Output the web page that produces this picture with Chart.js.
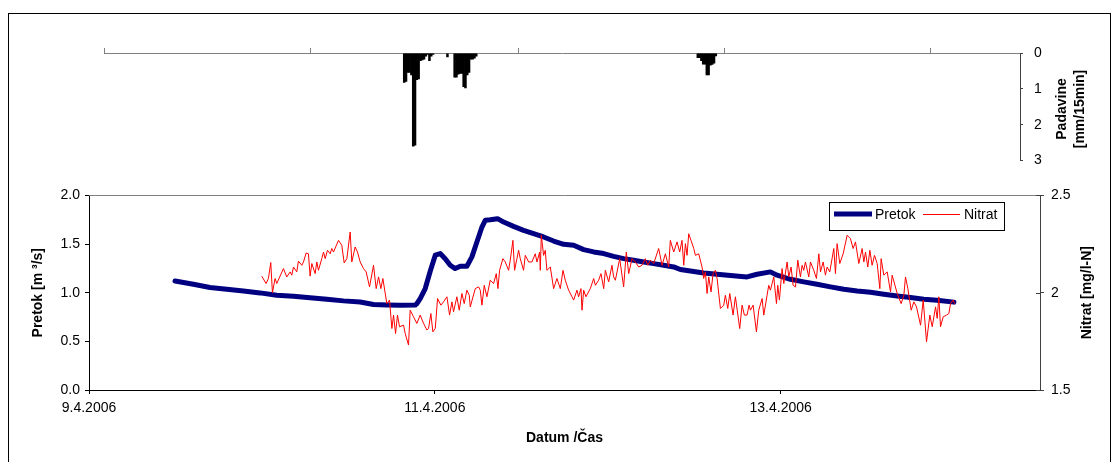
<!DOCTYPE html>
<html><head><meta charset="utf-8">
<script src="https://cdn.jsdelivr.net/npm/chart.js@4.4.1/dist/chart.umd.min.js"></script>
<style>
html,body{margin:0;padding:0;background:#fff;}
body{width:1115px;height:462px;position:relative;overflow:hidden;}
#frame{position:absolute;left:8px;top:13px;width:1103px;height:470px;border:1px solid #000;box-sizing:border-box;}
#topWrap{position:absolute;left:0;top:0;width:1115px;height:180px;}
#botWrap{position:absolute;left:0;top:180px;width:1115px;height:282px;}
canvas{display:block;}
</style></head><body>
<div id="frame"></div>
<div id="topWrap"><canvas id="rain" width="1115" height="180"></canvas></div>
<div id="botWrap"><canvas id="main" width="1115" height="282"></canvas></div>
<script>
// ---- data (time in hours since 9.4.2006 00:00) ----
const dateTickHours = [0, 48, 96];
const dateTickLabels = ['9.4.2006', '11.4.2006', '13.4.2006'];
const rainAxisTicks = [2.08, 30.81, 59.55, 88.14, 116.73];

const rainHours = [43.75,44.0,44.25,44.5,44.75,45.0,45.25,45.5,45.75,46.0,46.25,46.5,46.75,47.0,47.25,47.5,47.75,
  49.75,50.75,51.0,51.25,51.5,51.75,52.0,52.25,52.5,52.75,53.0,53.25,53.5,53.75,
  84.5,84.75,85.0,85.25,85.5,85.75,86.0,86.25,86.5,86.75,87.0];
const rainValues = [0.83,0.8,0.55,0.55,0.62,2.61,2.58,0.75,0.73,0.22,0.2,0.18,0.1,0.05,0.22,0.1,0.05,
  0.12,0.68,0.68,0.6,0.58,0.58,0.95,0.98,0.62,0.55,0.18,0.18,0.15,0.1,
  0.14,0.14,0.22,0.32,0.32,0.62,0.62,0.35,0.33,0.29,0.09];

const flowHours = [11.94,14.49,16.8,19.12,21.44,23.75,26.06,28.38,30.69,33.01,35.32,37.64,39.49,41.34,43.19,45.28,
  45.51,45.97,46.67,47.36,48.06,48.75,49.44,50.14,50.83,51.53,52.45,53.15,53.84,54.54,55.0,55.69,56.71,57.55,58.93,
  60.32,61.71,63.1,64.49,65.88,67.27,68.66,70.05,71.44,72.82,74.21,75.6,76.99,78.38,79.77,81.16,
  82.08,83.47,85.32,87.18,89.03,91.34,92.73,94.58,95.51,97.36,99.21,101.06,102.92,104.77,106.62,108.47,110.32,
  112.18,114.03,115.88,117.73,120.05];
const flowValues = [1.121,1.087,1.053,1.036,1.018,0.998,0.974,0.964,0.947,0.933,0.916,0.905,0.879,0.873,0.87,0.873,
  0.888,0.94,1.043,1.22,1.385,1.402,1.35,1.282,1.248,1.272,1.272,1.368,1.521,1.675,1.744,1.75,1.761,1.726,1.682,
  1.641,1.607,1.573,1.531,1.497,1.487,1.443,1.419,1.402,1.374,1.35,1.333,1.316,1.299,1.282,1.265,
  1.238,1.224,1.203,1.19,1.176,1.162,1.19,1.214,1.18,1.138,1.111,1.087,1.06,1.036,1.018,1.005,0.985,
  0.967,0.95,0.933,0.923,0.903];

const nitratHours = [
  23.98,24.58,24.9,25.23,25.46,25.83,26.06,26.99,27.45,27.92,
  28.15,28.38,28.84,29.07,29.54,29.77,30.14,30.46,30.69,30.93,
  31.39,31.62,31.85,32.31,32.55,32.78,33.1,33.47,33.7,33.94,
  34.63,35.09,35.42,35.79,36.25,36.48,36.94,37.27,37.64,38.1,
  38.47,38.94,39.49,39.86,40.19,40.51,40.79,41.34,41.71,42.04,
  42.27,42.55,42.82,43.1,43.66,43.89,44.35,44.58,45.05,45.51,
  45.97,46.44,46.9,
  47.13,47.45,47.73,48.06,48.38,48.84,49.21,49.68,50.05,50.37,
  50.6,51.06,51.39,51.76,52.08,52.45,52.78,52.92,53.61,54.07,
  54.31,54.54,54.86,55.23,55.69,56.16,56.53,56.76,56.99,57.45,
  57.78,58.24,58.47,58.84,59.07,59.4,59.63,59.86,60.32,60.56,
  61.02,61.48,61.94,62.18,62.55,62.64,62.78,63.1,63.33,63.56,
  64.03,64.49,64.95,65.42,65.79,66.11,66.57,67.04,67.27,67.73,
  67.96,68.29,68.43,68.66,68.98,69.58,70.05,70.28,70.74,71.06,
  71.44,71.67,72.13,72.59,72.82,73.06,73.66,74.21,74.58,74.91,
  75.37,75.83,76.3,76.76,77.22,77.55,77.92,78.38,79.07,79.54,
  80.0,80.46,80.69,81.16,81.62,81.99,
  82.31,82.55,82.78,83.01,83.24,83.56,83.94,84.17,84.63,85.09,
  85.32,85.56,85.79,86.02,86.34,86.62,86.94,87.18,87.64,88.1,
  88.33,88.66,88.94,89.4,89.72,90.32,90.65,90.97,91.34,91.62,
  91.81,92.18,92.64,92.96,93.43,93.66,94.12,94.35,94.58,95.05,
  95.42,95.6,95.83,96.2,96.44,96.9,97.13,97.45,97.73,98.06,
  98.38,98.75,98.98,99.21,99.44,99.91,100.14,100.6,100.97,101.3,
  101.53,101.9,102.22,102.45,102.82,103.38,103.61,103.84,104.21,104.68,
  105.23,105.69,106.06,106.39,106.85,107.31,107.55,107.78,108.1,108.38,
  108.7,109.03,109.4,109.77,109.95,110.32,110.79,111.25,111.48,112.18,
  112.73,113.1,113.33,113.66,114.12,114.49,114.86,115.42,115.79,116.25,
  116.71,117.04,117.5,117.73,117.96,118.19,118.56,119.03,119.35,119.58,
  119.95,120.14];
const nitratValues = [
  2.085,2.047,2.073,2.155,2.0,2.073,2.047,2.124,2.081,2.107,
  2.09,2.132,2.107,2.162,2.141,2.158,2.204,2.2,2.085,2.15,
  2.098,2.158,2.115,2.175,2.209,2.175,2.218,2.2,2.227,2.209,
  2.269,2.244,2.153,2.175,2.312,2.158,2.235,2.209,2.158,2.124,
  2.107,2.03,2.141,2.021,2.081,2.021,2.073,1.944,1.962,1.816,
  1.885,1.79,1.885,1.825,1.833,1.79,1.731,1.91,1.876,1.842,
  1.885,1.842,1.808,
  1.816,1.893,1.799,1.816,1.97,1.936,1.953,1.979,1.885,1.953,
  1.902,1.979,1.91,1.996,1.944,2.013,1.987,1.927,2.021,2.03,
  2.013,1.936,2.038,1.979,2.064,2.047,2.098,2.021,2.115,2.175,
  2.158,2.115,2.167,2.269,2.115,2.175,2.218,2.175,2.115,2.192,
  2.158,2.158,2.2,2.158,2.209,2.115,2.295,2.192,2.218,2.115,
  2.132,2.021,2.073,2.021,2.115,2.064,2.013,1.979,1.962,2.013,
  1.979,2.021,1.91,2.013,1.979,2.021,2.073,2.038,2.064,2.098,
  2.021,2.115,2.056,2.141,2.081,2.064,2.175,2.03,2.209,2.098,
  2.175,2.158,2.132,2.141,2.175,2.141,2.167,2.15,2.227,2.141,
  2.2,2.132,2.269,2.209,2.261,2.209,
  2.269,2.141,2.252,2.192,2.303,2.269,2.227,2.192,2.2,2.132,
  2.073,2.107,1.996,2.081,2.004,2.098,2.115,2.073,1.919,1.936,
  1.987,1.919,1.996,1.885,1.979,1.816,1.936,1.885,1.885,1.936,
  1.91,1.936,1.799,1.91,1.97,1.885,1.987,2.038,2.013,2.081,
  1.944,2.038,1.962,2.124,2.047,2.158,2.081,2.132,2.038,2.03,
  2.167,2.081,2.141,2.115,2.158,2.081,2.158,2.115,2.073,2.2,
  2.107,2.158,2.09,2.132,2.107,2.227,2.098,2.252,2.15,2.2,
  2.295,2.278,2.227,2.261,2.15,2.227,2.158,2.209,2.132,2.218,
  2.141,2.192,2.15,2.021,2.175,2.09,2.107,2.004,2.09,1.996,
  1.944,1.987,2.081,2.021,1.91,1.953,1.927,1.833,1.962,1.748,
  1.885,1.825,1.927,1.868,1.979,1.825,1.876,1.885,1.893,1.944,
  1.962,1.944];

if (nitratHours.length !== nitratValues.length) throw new Error('nitrat length mismatch ' + nitratHours.length + ' vs ' + nitratValues.length);
if (flowHours.length !== flowValues.length) throw new Error('flow length mismatch ' + flowHours.length + ' vs ' + flowValues.length);
if (rainHours.length !== rainValues.length) throw new Error('rain length mismatch');

const FONT = "'Liberation Sans', Arial, sans-serif";
Chart.defaults.font.family = FONT;
Chart.defaults.font.size = 14;
Chart.defaults.color = '#000';

// ---- top chart (precipitation) ----
const rainTitleLines = ['Padavine', '[mm/15min]'];
const rainTitlePlugin = {
  id: 'rainTitle',
  afterDraw(chart) {
    const {ctx} = chart;
    ctx.save();
    ctx.fillStyle = '#000';
    ctx.font = 'bold 14px ' + FONT;
    ctx.textAlign = 'center';
    ctx.textBaseline = 'middle';
    const cy = 109;
    [1062, 1080].forEach((x, i) => {
      ctx.save();
      ctx.translate(x, cy);
      ctx.rotate(-Math.PI / 2);
      ctx.fillText(rainTitleLines[i], 0, 0);
      ctx.restore();
    });
    ctx.restore();
  }
};

new Chart(document.getElementById('rain'), {
  type: 'bar',
  data: {
    datasets: [{
      label: 'Padavine',
      data: rainHours.map((h, i) => ({x: h, y: rainValues[i]})),
      backgroundColor: '#000',
      borderWidth: 0,
      barPercentage: 1.4,
      categoryPercentage: 1
    }]
  },
  options: {
    responsive: false,
    animation: false,
    layout: {padding: {left: 104, right: 0, top: 43, bottom: 17}},
    plugins: {legend: {display: false}, tooltip: {enabled: false}},
    scales: {
      x: {
        type: 'linear', position: 'top', min: 2.08, max: 129.22, offset: false,
        afterBuildTicks: s => { s.ticks = rainAxisTicks.map(v => ({value: v})); },
        ticks: {display: false},
        grid: {offset: false, drawOnChartArea: false, drawTicks: true, tickLength: 5, color: '#808080'},
        border: {display: true, color: '#808080', width: 1},
        afterFit: s => { s.height = 10; }
      },
      y: {
        position: 'right', reverse: true, min: 0, max: 3,
        ticks: {stepSize: 1, padding: 11},
        grid: {drawOnChartArea: false, tickLength: 3, color: '#404040'},
        border: {color: '#404040'},
        afterFit: s => { s.width = 95; }
      }
    }
  },
  plugins: [rainTitlePlugin]
});

// ---- bottom chart (flow and nitrate) ----
const nitratTitle = 'Nitrat [mg/l-N]';
const mainExtras = {
  id: 'mainExtras',
  afterDraw(chart) {
    const {ctx, chartArea: a, scales} = chart;
    ctx.save();
    ctx.lineWidth = 1;
    ctx.strokeStyle = '#808080';
    ctx.beginPath(); ctx.moveTo(a.left, Math.round(a.top) + 0.5); ctx.lineTo(a.right, Math.round(a.top) + 0.5); ctx.stroke();
    ctx.strokeStyle = '#404040';
    scales.y2.ticks.forEach(t => {
      const y = Math.round(scales.y2.getPixelForValue(t.value)) + 0.5;
      ctx.beginPath(); ctx.moveTo(a.right - 4, y); ctx.lineTo(a.right, y); ctx.stroke();
    });
    // right title
    ctx.save();
    ctx.fillStyle = '#000';
    ctx.font = 'bold 14px ' + FONT;
    ctx.textAlign = 'center';
    ctx.textBaseline = 'middle';
    ctx.translate(1087, (a.top + a.bottom) / 2);
    ctx.rotate(-Math.PI / 2);
    ctx.fillText(nitratTitle, 0, 0);
    ctx.restore();
    // legend
    const bx = 829, by = 22, bw = 175, bh = 28, cy = 34;
    ctx.fillStyle = '#fff';
    ctx.fillRect(bx, by, bw, bh);
    ctx.strokeStyle = '#000';
    ctx.lineWidth = 1;
    ctx.strokeRect(bx + 0.5, by + 0.5, bw, bh);
    const ds = chart.data.datasets;
    ctx.font = '14px ' + FONT;
    ctx.textAlign = 'left';
    ctx.textBaseline = 'middle';
    ctx.lineCap = 'butt';
    ctx.strokeStyle = ds[0].borderColor; ctx.lineWidth = ds[0].borderWidth;
    ctx.beginPath(); ctx.moveTo(834, cy); ctx.lineTo(872, cy); ctx.stroke();
    ctx.fillStyle = '#000';
    ctx.fillText(ds[0].label, 875, cy + 1);
    ctx.strokeStyle = ds[1].borderColor; ctx.lineWidth = ds[1].borderWidth;
    ctx.beginPath(); ctx.moveTo(923, cy + 0.5); ctx.lineTo(960, cy + 0.5); ctx.stroke();
    ctx.fillText(ds[1].label, 964, cy + 1);
    ctx.restore();
  }
};

new Chart(document.getElementById('main'), {
  type: 'line',
  data: {
    datasets: [
      {
        label: 'Pretok',
        data: flowHours.map((h, i) => ({x: h, y: flowValues[i]})),
        borderColor: '#000080', borderWidth: 5, pointRadius: 0, tension: 0,
        borderJoinStyle: 'round', borderCapStyle: 'round', yAxisID: 'y', order: 1
      },
      {
        label: 'Nitrat',
        data: nitratHours.map((h, i) => ({x: h, y: nitratValues[i]})),
        borderColor: '#ff0000', borderWidth: 1, pointRadius: 0, tension: 0,
        yAxisID: 'y2', order: 0
      }
    ]
  },
  options: {
    responsive: false,
    animation: false,
    layout: {padding: {left: 0, right: 0, top: 15, bottom: 0}},
    plugins: {legend: {display: false}, tooltip: {enabled: false}},
    scales: {
      x: {
        type: 'linear', position: 'bottom', min: 0, max: 132,
        afterBuildTicks: s => { s.ticks = dateTickHours.map(v => ({value: v})); },
        ticks: {padding: 6, maxRotation: 0, autoSkip: false, callback: (v, i) => dateTickLabels[i]},
        grid: {drawOnChartArea: false, tickLength: 4, color: '#000'},
        border: {color: '#000', width: 1},
        title: {display: true, text: 'Datum /Čas', font: {size: 14, weight: 'bold'}, padding: {top: 0, bottom: 15}},
        afterFit: s => { s.height = 72; }
      },
      y: {
        position: 'left', min: 0, max: 2,
        ticks: {stepSize: 0.5, padding: 5, callback: v => Number(v).toFixed(1)},
        grid: {drawOnChartArea: false, tickLength: 4, color: '#000'},
        border: {color: '#000', width: 1},
        title: {display: true, text: 'Pretok [m ³/s]', font: {size: 14, weight: 'bold'}, padding: {top: 30, bottom: 0}},
        afterFit: s => { s.width = 89; }
      },
      y2: {
        position: 'right', min: 1.5, max: 2.5,
        ticks: {stepSize: 0.5, padding: 7, callback: v => String(Number(v))},
        grid: {drawOnChartArea: false, tickLength: 4, color: '#404040'},
        border: {color: '#404040', width: 1},
        afterFit: s => { s.width = 75; }
      }
    }
  },
  plugins: [mainExtras]
});
</script>
</body></html>
